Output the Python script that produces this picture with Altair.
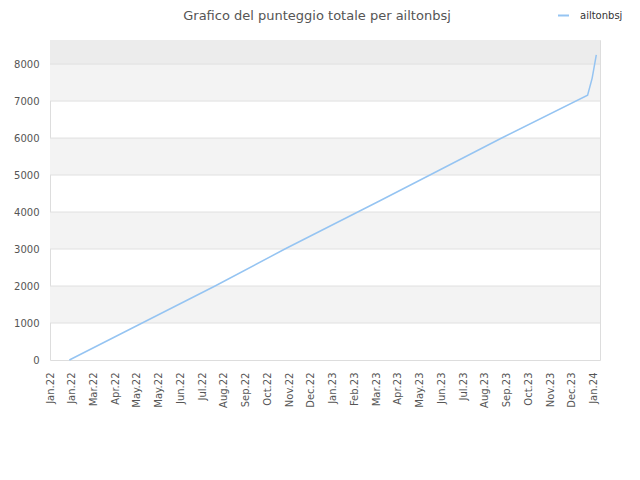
import altair as alt
import pandas as pd

title_text = "Grafico del punteggio totale per ailtonbsj"

# x tick labels (evenly spaced ticks, index based)
tick_labels = ["Jan.22", "Jan.22", "Mar.22", "Apr.22", "May.22", "May.22", "Jun.22",
               "Jul.22", "Aug.22", "Sep.22", "Oct.22", "Nov.22", "Dec.22", "Jan.23",
               "Feb.23", "Mar.23", "Apr.23", "May.23", "Jun.23", "Jul.23", "Aug.23",
               "Sep.23", "Oct.23", "Nov.23", "Dec.23", "Jan.24"]

# series (x in tick-index units)
line_x = [0.89, 4.60, 7.59, 10.80, 15.17, 17.47, 20.77, 24.72, 24.93, 25.12]
line_y = [0, 1108, 2000, 3000, 4305, 5000, 6000, 7160, 7620, 8250]
series_name = "ailtonbsj"

# y ticks and background bands
y_ticks = [0, 1000, 2000, 3000, 4000, 5000, 6000, 7000, 8000]
band_start = [1000, 3000, 5000, 7000, 8000]
band_end = [2000, 4000, 6000, 8000, 8650]
band_fill = ["#f3f3f3", "#f3f3f3", "#f3f3f3", "#f3f3f3", "#ececec"]

y_max = 8650
x_max = 25.29

line_df = pd.DataFrame({"x": line_x, "y": line_y, "serie": [series_name] * len(line_x)})
band_df = pd.DataFrame({"y": band_start, "y2": band_end, "fill": band_fill})
grid_df = pd.DataFrame({"y": y_ticks[1:]})
title_df = pd.DataFrame({"t": [title_text]})

label_js = "[" + ",".join("'%s'" % s for s in tick_labels) + "]"

xscale = alt.Scale(domain=[0, x_max], nice=False, zero=False)
yscale = alt.Scale(domain=[0, y_max], nice=False)

y_axis = alt.Axis(values=y_ticks, format="d", ticks=False, domain=False, grid=False,
                  labelPadding=11, title=None, labelFontSize=10, labelColor="#555555",
                  labelFont="DejaVu Sans", labelOverlap=False, labelFlush=False)
x_axis = alt.Axis(values=list(range(len(tick_labels))),
                  labelExpr=label_js + "[datum.value]",
                  labelAngle=270, labelAlign="right", labelBaseline="middle",
                  labelPadding=12, ticks=False, domain=False, grid=False,
                  title=None, labelFontSize=10, labelColor="#555555",
                  labelFont="DejaVu Sans", labelOverlap=False, labelFlush=False)

bands = alt.Chart(band_df).mark_rect().encode(
    x=alt.value(0), x2=alt.value(550),
    y=alt.Y("y:Q", scale=yscale, axis=y_axis),
    y2="y2:Q",
    fill=alt.Fill("fill:N", scale=None, legend=None),
)

grid = alt.Chart(grid_df).mark_rule(color="#e0e0e0", strokeWidth=1).encode(
    y=alt.Y("y:Q", scale=yscale, axis=y_axis))

line = alt.Chart(line_df).mark_line(strokeWidth=1.5).encode(
    x=alt.X("x:Q", scale=xscale, axis=x_axis),
    y=alt.Y("y:Q", scale=yscale, axis=y_axis),
    color=alt.Color("serie:N", scale=alt.Scale(range=["#95c4f2"]),
                    legend=alt.Legend(orient="none", legendX=507, legendY=-31, title=None,
                                      symbolType="stroke", symbolSize=121,
                                      symbolStrokeWidth=2, labelFontSize=10,
                                      labelFont="DejaVu Sans", labelColor="#333333",
                                      labelOffset=10)),
)

title = alt.Chart(title_df).mark_text(
    font="DejaVu Sans", fontSize=13, color="#555555", align="center",
    baseline="alphabetic").encode(text="t:N", x=alt.value(267), y=alt.value(-20))

chart = alt.layer(bands, grid, line, title).properties(
    width=550, height=320,
    autosize=alt.AutoSizeParams(type="none"),
    padding={"left": 42, "top": 32, "right": 30, "bottom": 100},
).configure_view(stroke="#dddddd", strokeWidth=1)

chart.save("out.html", embed_options={"renderer": "svg", "actions": False})
